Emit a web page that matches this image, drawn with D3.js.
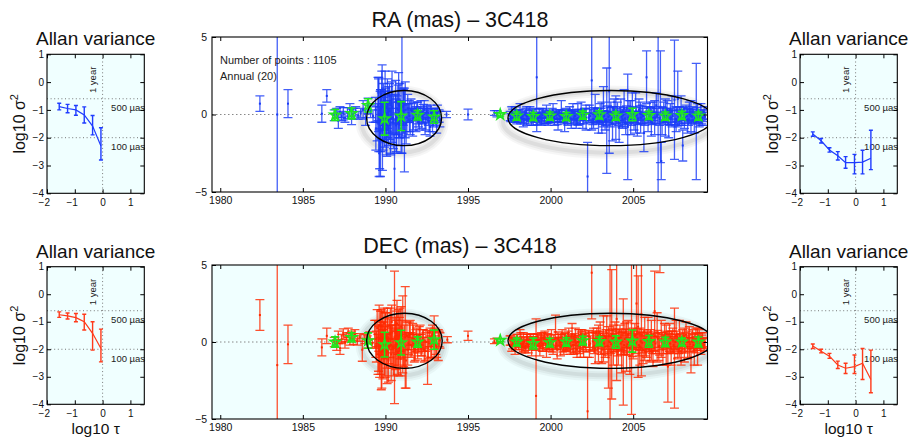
<!DOCTYPE html>
<html>
<head>
<meta charset="utf-8">
<script src="https://cdn.jsdelivr.net/npm/d3@7/dist/d3.min.js"></script>
<style>
body { margin: 0; background: #fff; }
svg { font-family: "Liberation Sans", Arial, Helvetica, sans-serif; }
</style>
</head>
<body>
<svg id="fig" width="911" height="437"></svg>
<script>
// ---- data ----
// [epoch, offset (mas), error (mas)]
const raPoints = [
  [1982.4,0.7,0.5],[1983.45,0.0,12],[1984.1,0.7,0.9],[1986.15,0.05,0.55],[1986.45,1.2,0.4],
  [1986.9,-0.05,0.35],[1987.05,0.1,0.3],[1987.15,-0.4,0.5],[1987.25,0.15,0.35],[1987.35,-0.1,0.3],
  [1987.45,0.05,0.4],[1987.55,-0.2,0.3],[1987.7,0.1,0.35],[1987.85,0.3,0.4],[1987.95,-0.15,0.5],
  [1988.05,0.05,0.35],[1988.2,0.2,0.3],[1988.35,-0.05,0.25],[1988.5,0.1,0.3],[1988.65,0.3,0.6],
  [1988.8,-0.2,0.5],[1988.95,0.55,0.5],[1989.1,0.2,0.4],[1989.25,-0.1,0.4],
  [1989.4,0.3,0.8],[1989.5,-0.5,1.2],[1989.55,1.0,1.4],[1989.6,0.0,2.4],[1989.65,-1.5,2.0],
  [1989.7,-1.2,2.8],[1989.75,0.4,1.0],[1989.8,0.8,2.4],[1989.85,-0.8,1.5],[1989.9,0.2,0.9],
  [1989.95,-0.3,1.8],[1990.0,0.5,1.2],[1990.05,-1.0,1.6],[1990.1,0.1,0.8],[1990.15,-0.4,1.1],
  [1990.2,0.3,1.5],[1990.3,-0.6,1.9],[1990.35,0.6,0.9],[1990.4,0.5,2.3],[1990.45,-0.2,1.0],
  [1990.55,-3.5,3.0],[1990.6,0.0,1.3],[1990.65,-0.7,1.7],[1990.7,0.4,0.8],[1990.8,0.6,2.1],
  [1990.85,-0.3,1.2],[1990.9,0.1,0.7],[1991.0,2.0,4.5],[1991.05,-0.4,1.0],[1991.1,0.2,1.4],
  [1991.15,-1.0,2.7],[1991.2,0.3,1.8],[1991.3,-0.2,0.9],[1991.4,0.1,0.6],[1991.5,-0.5,0.8],
  [1991.6,0.2,0.5],[1991.7,-0.3,0.7],[1991.8,0.0,0.4],[1991.9,0.3,0.5],[1992.0,-0.2,0.6],
  [1992.1,0.1,0.4],[1992.2,-0.4,0.5],[1992.3,0.05,0.6],[1992.4,-0.6,0.7],[1992.5,0.2,0.4],
  [1992.6,-0.2,0.5],[1992.7,-0.8,0.6],[1992.8,0.0,0.4],[1992.9,-0.3,0.5],[1993.0,0.1,0.3],
  [1993.1,-0.5,0.7],[1993.25,-0.1,0.4],[1993.7,0.0,0.2],[1995.0,0.0,0.35],[1996.6,0.1,0.15],
  [1996.75,0.05,0.2],
  [1997.55,-0.1,0.3],[1997.65,0.1,0.4],[1997.75,-0.2,0.3],[1997.85,0.0,0.5],[1997.95,-0.3,0.3],
  [1998.05,-0.1,0.4],[1998.15,0.2,0.5],[1998.25,-0.2,0.3],[1998.35,-0.4,0.4],[1998.45,0.0,0.3],
  [1998.55,-0.1,0.6],[1998.65,-0.3,0.3],[1998.75,0.1,0.4],[1998.85,-0.2,0.5],[1998.95,-0.4,0.3],
  [1999.05,0.0,0.4],[1999.16,2.4,3.5],[1999.25,-0.2,0.3],[1999.35,-0.1,0.5],[1999.45,-0.3,0.4],
  [1999.55,0.1,0.3],[1999.65,-0.2,0.4],[1999.75,0.0,0.6],[1999.85,-0.4,0.3],[1999.95,-0.1,0.4],
  [2000.05,-0.2,0.3],[2000.15,0.2,0.5],[2000.25,-0.3,0.4],[2000.35,0.0,0.3],[2000.45,-0.5,0.5],
  [2000.55,-0.1,0.4],[2000.65,0.3,0.6],[2000.75,-0.2,0.3],[2000.85,-0.6,0.5],[2000.95,0.0,0.4],
  [2001.05,-0.2,0.5],[2001.15,0.1,0.4],[2001.25,-0.3,0.6],[2001.35,0.2,0.5],[2001.45,-0.1,0.4],
  [2001.55,-0.4,0.5],[2001.65,0.0,0.7],[2001.75,-0.2,0.4],[2001.85,0.3,0.5],[2001.95,-0.3,0.6],
  [2002.05,0.0,0.4],[2002.15,-0.2,0.8],[2002.24,-4.0,2.2],[2002.35,0.1,0.5],[2002.49,2.2,3.2],
  [2002.6,-0.3,0.6],[2002.7,0.4,0.9],[2002.8,-0.1,0.5],[2002.9,-0.5,0.7],[2003.0,0.1,0.6],
  [2003.1,-0.2,1.0],[2003.2,0.5,1.3],[2003.3,-0.4,0.6],[2003.4,-0.4,3.4],[2003.55,1.5,4.0],
  [2003.65,0.0,0.8],[2003.75,-0.6,1.1],[2003.85,0.3,0.7],[2003.95,-0.2,1.4],[2004.05,0.2,0.6],
  [2004.15,-0.8,1.0],[2004.25,0.1,0.9],[2004.35,-0.3,0.6],[2004.45,0.4,1.2],[2004.55,-0.5,0.8],
  [2004.67,-0.8,3.4],[2004.75,0.2,0.7],[2004.85,-0.2,1.1],[2004.95,0.5,0.9],[2005.05,-0.4,0.6],
  [2005.15,0.1,1.3],[2005.25,-0.6,0.8],[2005.35,0.3,0.7],[2005.45,-0.2,1.0],[2005.55,0.0,0.6],
  [2005.65,-1.2,1.2],[2005.81,2.4,1.7],[2005.9,-0.3,0.8],[2006.0,0.2,0.6],[2006.1,-0.5,0.9],
  [2006.2,0.1,0.7],[2006.3,-0.2,1.1],[2006.4,0.6,0.8],[2006.51,0.0,7],[2006.65,0.5,3.6],
  [2006.7,-3.0,1.2],[2006.75,-0.4,0.9],[2006.85,0.1,0.7],[2006.95,-0.2,1.2],[2007.05,0.3,0.6],
  [2007.15,-0.6,0.9],[2007.25,0.0,0.7],[2007.35,0.2,1.0],[2007.5,0.95,3.85],[2007.6,-0.3,0.8],
  [2007.7,1.0,1.8],[2007.8,-0.1,0.6],[2007.9,0.3,0.9],[2008.0,-2.0,1.0],[2008.1,-0.2,0.7],
  [2008.2,0.1,0.5],[2008.3,-0.4,0.8],[2008.4,0.2,0.6],[2008.5,-0.1,1.0],[2008.6,0.0,0.5],
  [2008.7,-0.5,0.7],[2008.82,-0.45,3.75],[2008.9,0.1,0.6],[2009.0,-0.3,0.5],[2009.1,0.0,0.7],
  [2009.2,-0.2,0.5],[2009.3,0.1,0.4]
];
// further RA sessions inside the two crowded groups
const raCrowd = [
  [1989.42,-0.9,1.4],[1989.58,0.6,1.7],[1989.62,-2.5,1.5],[1989.68,0.3,1.2],[1989.72,-0.4,2.0],
  [1989.78,1.2,1.6],[1989.82,-1.8,1.8],[1989.88,0.5,1.5],[1989.92,-0.6,1.1],[1989.98,0.9,1.9],
  [1990.02,-0.2,1.4],[1990.08,-1.4,1.3],[1990.12,0.7,1.6],[1990.18,-0.8,1.2],[1990.25,0.2,1.8],
  [1990.32,-1.1,1.5],[1990.38,0.9,1.2],[1990.48,-0.5,1.7],[1990.62,0.8,1.4],[1990.68,-1.2,1.3],
  [1990.75,0.3,1.6],[1990.82,-0.6,1.4],[1990.88,0.9,1.1],[1990.95,-0.9,1.6],[1991.08,0.5,1.2],
  [1991.25,-0.6,1.3],[1991.35,0.4,0.9],[1991.45,-0.1,1.0],[1991.55,0.3,0.7],[1991.65,-0.5,0.9],
  [1991.75,0.2,0.6],[1991.85,-0.3,0.8],[1991.95,0.1,0.7],[1992.05,-0.4,0.6],[1992.15,0.2,0.7],
  [1992.25,-0.1,0.5],[1992.35,0.3,0.6],[1992.45,-0.3,0.7],[1992.55,0.0,0.5],[1992.65,-0.5,0.6],
  [1992.75,0.1,0.5],[1992.85,-0.4,0.7],[1992.95,-0.1,0.5],[1993.05,-0.3,0.4],[1993.15,0.1,0.5],
  [1993.3,-0.3,0.5],
  [1997.6,-0.2,0.25],[1997.7,0.05,0.3],[1997.8,-0.15,0.2],[1997.9,-0.05,0.35],[1998.0,-0.25,0.25],
  [1998.1,0.0,0.3],[1998.2,-0.2,0.4],[1998.3,-0.1,0.25],[1998.4,-0.3,0.3],[1998.5,0.05,0.35],
  [1998.6,-0.15,0.25],[1998.7,-0.05,0.3],[1998.8,-0.25,0.2],[1998.9,0.0,0.35],[1999.0,-0.2,0.3],
  [1999.1,-0.1,0.25],[1999.2,-0.3,0.35],[1999.3,0.05,0.3],[1999.4,-0.15,0.25],[1999.5,-0.05,0.4],
  [1999.6,-0.25,0.3],[1999.7,0.0,0.25],[1999.8,-0.2,0.35],[1999.9,-0.1,0.3],[2000.0,-0.3,0.25],
  [2000.1,0.05,0.35],[2000.2,-0.15,0.3],[2000.3,-0.05,0.25],[2000.4,-0.25,0.4],[2000.5,0.0,0.3],
  [2000.6,-0.2,0.25],[2000.7,-0.1,0.35],[2000.8,-0.3,0.3],[2000.9,0.05,0.25],[2001.0,-0.15,0.4],
  [2001.1,-0.05,0.3],[2001.2,-0.25,0.35],[2001.3,0.0,0.3],[2001.4,-0.2,0.4],[2001.5,-0.1,0.3],
  [2001.6,-0.3,0.35],[2001.7,0.05,0.3],[2001.8,-0.15,0.45],[2001.9,-0.05,0.3],[2002.0,-0.25,0.35],
  [2002.1,0.0,0.4],[2002.3,-0.2,0.3],[2002.4,-0.1,0.45],[2002.55,-0.3,0.35],[2002.65,0.05,0.4],
  [2002.75,-0.15,0.3],[2002.85,-0.05,0.45],[2002.95,-0.25,0.35],[2003.05,0.0,0.4],[2003.15,-0.2,0.45],
  [2003.25,-0.1,0.35],[2003.35,-0.3,0.4],[2003.45,0.1,0.45],[2003.5,-0.15,0.35],[2003.6,-0.05,0.5],
  [2003.7,-0.25,0.4],[2003.8,0.05,0.45],[2003.9,-0.2,0.35],[2004.0,-0.1,0.5],[2004.1,-0.3,0.4],
  [2004.2,0.05,0.45],[2004.3,-0.15,0.35],[2004.4,-0.05,0.5],[2004.5,-0.25,0.4],[2004.6,0.1,0.45],
  [2004.7,-0.2,0.35],[2004.8,-0.1,0.5],[2004.9,-0.3,0.4],[2005.0,0.05,0.45],[2005.1,-0.15,0.35],
  [2005.2,-0.05,0.5],[2005.3,-0.25,0.4],[2005.4,0.1,0.45],[2005.5,-0.2,0.35],[2005.6,-0.1,0.5],
  [2005.7,-0.3,0.4],[2005.8,0.05,0.45],[2005.95,-0.15,0.35],[2006.05,-0.05,0.5],[2006.15,-0.25,0.4],
  [2006.25,0.05,0.45],[2006.35,-0.2,0.35],[2006.45,-0.1,0.5],[2006.6,-0.3,0.4],[2006.8,0.0,0.45],
  [2006.9,-0.15,0.35],[2007.0,-0.05,0.45],[2007.1,-0.25,0.4],[2007.2,0.05,0.35],[2007.3,-0.2,0.45],
  [2007.4,-0.1,0.4],[2007.55,-0.3,0.35],[2007.65,0.0,0.45],[2007.75,-0.15,0.4],[2007.85,-0.05,0.35],
  [2007.95,-0.25,0.45],[2008.05,0.05,0.4],[2008.15,-0.2,0.35],[2008.25,-0.1,0.45],[2008.35,-0.3,0.4],
  [2008.45,0.0,0.35],[2008.55,-0.15,0.45],[2008.65,-0.05,0.4],[2008.75,-0.25,0.35],[2008.85,0.05,0.4],
  [2008.95,-0.2,0.35],[2009.05,-0.1,0.3],[2009.15,-0.25,0.35],[2009.25,0.0,0.3],[2009.35,-0.15,0.3]
];

const decPoints = [
  [1982.4,1.75,1.0],[1983.45,-1.5,12],[1984.1,-0.15,1.25],[1986.15,-0.35,0.55],[1986.45,0.4,0.5],
  [1986.9,0.0,0.3],[1987.05,-0.2,0.35],[1987.15,0.3,0.4],[1987.25,-0.4,0.4],[1987.35,0.2,0.3],
  [1987.45,0.5,0.35],[1987.55,0.0,0.4],[1987.65,0.3,0.3],[1987.75,0.6,0.3],[1987.85,0.2,0.4],
  [1987.95,0.4,0.3],[1988.05,0.2,0.35],[1988.15,0.5,0.3],[1988.3,0.1,0.3],[1988.45,0.3,0.25],
  [1988.6,-0.5,0.75],[1988.75,0.2,0.3],[1988.9,0.0,0.4],[1989.05,0.3,0.35],[1989.2,-0.1,0.3],
  [1989.35,0.5,0.9],[1989.45,-0.3,1.0],[1989.5,0.9,1.2],[1989.55,-0.8,1.3],[1989.6,0.2,0.8],
  [1989.65,-1.2,1.1],[1989.7,0.6,1.4],[1989.75,-0.5,2.6],[1989.8,0.1,1.0],[1989.85,-1.0,1.4],
  [1989.9,0.4,0.9],[1989.95,-0.6,1.6],[1990.0,0.8,1.1],[1990.05,-0.2,0.8],[1990.1,-1.5,1.2],
  [1990.15,0.3,1.3],[1990.2,-0.4,1.0],[1990.3,1.0,1.2],[1990.35,-0.8,1.7],[1990.4,0.2,0.9],
  [1990.45,-0.3,1.4],[1990.55,0.3,4.3],[1990.6,0.6,1.0],[1990.65,-0.5,1.2],[1990.7,1.2,1.5],
  [1990.75,0.0,0.8],[1990.8,-0.9,1.3],[1990.85,0.5,1.1],[1990.9,-0.2,0.9],[1990.95,1.0,1.3],
  [1991.05,0.5,2.5],[1991.1,-0.6,1.0],[1991.2,0.3,3.3],[1991.25,-1.2,1.8],[1991.3,0.4,0.9],
  [1991.4,-0.1,0.7],[1991.5,0.6,0.8],[1991.6,-0.3,0.6],[1991.7,0.2,0.9],[1991.8,-0.5,0.7],
  [1991.9,0.4,0.5],[1992.0,-0.1,0.6],[1992.1,0.3,0.8],[1992.2,-0.4,0.5],[1992.3,0.1,0.7],
  [1992.4,-0.6,0.6],[1992.55,-1.0,1.75],[1992.65,0.2,0.5],[1992.75,-0.3,0.7],[1992.85,0.5,0.6],
  [1992.95,0.3,1.4],[1993.05,-0.2,0.6],[1993.2,-0.2,1.0],[1993.3,0.1,0.5],[1993.75,0.15,0.2],
  [1995.0,0.4,0.3],[1996.6,0.05,0.15],[1996.75,0.1,0.15],
  [1997.55,0.1,0.3],[1997.65,-0.2,0.4],[1997.75,0.0,0.3],[1997.85,-0.3,0.5],[1997.95,0.2,0.3],
  [1998.05,-0.1,0.4],[1998.15,0.3,0.5],[1998.25,-0.3,0.4],[1998.35,0.0,0.6],[1998.45,-0.4,0.3],
  [1998.55,0.1,0.4],[1998.65,-0.2,0.5],[1998.75,0.2,0.3],[1998.85,-0.5,0.4],[1998.95,0.0,0.5],
  [1999.05,-0.2,0.3],[1999.12,-3.5,5.0],[1999.25,0.1,0.4],[1999.35,-0.3,0.6],[1999.45,0.2,0.4],
  [1999.55,-0.1,0.5],[1999.65,0.3,0.4],[1999.75,-0.4,0.6],[1999.85,0.0,0.5],[1999.95,-0.2,0.4],
  [2000.05,0.2,0.6],[2000.15,-0.3,0.5],[2000.3,0.65,1.1],[2000.4,-0.5,0.6],[2000.5,0.1,0.4],
  [2000.6,-0.2,0.7],[2000.7,0.3,0.5],[2000.8,-0.4,0.4],[2000.9,0.0,0.6],[2001.0,-0.1,0.5],
  [2001.1,0.2,0.7],[2001.2,-0.3,0.5],[2001.3,0.5,0.7],[2001.4,-0.2,0.6],[2001.5,0.1,0.8],
  [2001.6,-0.5,0.5],[2001.7,0.2,0.6],[2001.8,-0.1,0.9],[2001.9,0.3,0.5],[2002.0,-0.3,0.7],
  [2002.1,0.1,0.6],[2002.24,-4.5,3.5],[2002.35,-0.2,0.8],[2002.49,4.5,3.0],[2002.6,0.2,0.7],
  [2002.7,-0.4,1.0],[2002.8,0.3,0.6],[2002.9,-0.1,1.2],[2003.0,0.5,0.8],[2003.1,-0.5,0.9],
  [2003.2,0.2,1.5],[2003.3,-0.3,0.7],[2003.4,0.6,1.1],[2003.5,-1.0,2.0],[2003.6,0.0,7.0],
  [2003.7,0.5,4.2],[2003.8,-0.2,1.3],[2003.9,0.4,0.9],[2004.0,1.5,4.0],[2004.1,-0.4,1.1],
  [2004.2,0.3,0.8],[2004.3,-0.6,1.4],[2004.4,-0.65,3.45],[2004.5,0.2,1.0],[2004.6,-0.3,1.6],
  [2004.7,0.5,0.9],[2004.8,-0.9,1.2],[2004.9,0.3,5.0],[2005.0,-0.1,1.0],[2005.1,0.4,0.8],
  [2005.2,2.5,3.0],[2005.3,1.0,3.3],[2005.4,-0.3,1.2],[2005.5,1.8,4.0],[2005.6,-0.5,0.9],
  [2005.7,0.2,1.4],[2005.8,-0.2,0.8],[2005.9,0.5,1.1],[2006.0,-0.4,0.9],[2006.1,0.1,1.3],
  [2006.2,-0.6,1.0],[2006.3,2.0,2.6],[2006.45,0.3,1.6],[2006.55,-0.3,0.9],[2006.62,6.5,2.0],
  [2006.7,0.2,1.2],[2006.8,-0.5,1.0],[2006.9,0.4,0.8],[2007.0,-0.2,1.3],[2007.1,-1.6,2.3],
  [2007.2,0.3,0.9],[2007.3,-0.4,1.1],[2007.4,0.1,0.8],[2007.5,-1.05,3.25],[2007.6,0.4,1.0],
  [2007.7,-0.3,0.8],[2007.8,0.2,1.2],[2007.9,-0.6,0.9],[2008.0,0.1,0.7],[2008.1,-0.2,1.1],
  [2008.2,0.5,0.8],[2008.3,-0.4,0.7],[2008.4,0.0,1.0],[2008.5,-1.0,1.0],[2008.6,0.2,0.6],
  [2008.7,-0.5,1.0],[2008.8,0.1,0.8],[2008.9,-0.3,1.2],[2009.0,0.2,0.6],[2009.1,-0.1,0.7],
  [2009.2,0.1,0.5],[2009.3,-0.2,0.4]
];
const decCrowd = [
  [1989.42,0.2,1.2],[1989.58,-0.4,1.5],[1989.62,1.1,1.3],[1989.68,-0.9,1.2],[1989.72,0.3,1.0],
  [1989.78,-1.4,1.6],[1989.82,0.7,1.3],[1989.88,-0.3,1.1],[1989.92,1.2,1.0],[1989.98,-1.0,1.3],
  [1990.02,0.4,1.5],[1990.08,-0.6,1.1],[1990.12,1.0,1.2],[1990.18,-1.2,1.4],[1990.25,0.5,1.0],
  [1990.32,-0.2,1.3],[1990.38,1.3,1.1],[1990.48,-1.0,1.2],[1990.62,-0.2,1.6],[1990.68,0.8,1.2],
  [1990.72,-0.7,1.4],[1990.78,1.1,1.0],[1990.82,-0.3,1.2],[1990.88,0.7,1.5],[1990.92,-1.1,1.1],
  [1991.0,0.2,1.2],[1991.15,-0.3,1.4],[1991.35,-0.5,1.0],[1991.45,0.4,0.9],[1991.55,-0.2,0.8],
  [1991.65,0.5,0.7],[1991.75,-0.4,0.9],[1991.85,0.1,0.7],[1991.95,-0.3,0.8],[1992.05,0.4,0.6],
  [1992.15,-0.2,0.7],[1992.25,0.2,0.6],[1992.35,-0.5,0.8],[1992.45,0.0,0.6],[1992.6,-0.4,0.7],
  [1992.7,0.3,0.6],[1992.8,-0.2,0.8],[1992.9,0.1,0.6],[1993.0,0.4,0.5],[1993.1,-0.4,0.6],
  [1993.25,0.2,0.5],
  [1997.6,0.1,0.3],[1997.7,-0.1,0.35],[1997.8,0.05,0.25],[1997.9,-0.2,0.3],[1998.0,0.15,0.35],
  [1998.1,-0.05,0.3],[1998.2,0.2,0.4],[1998.3,-0.15,0.3],[1998.4,0.0,0.35],[1998.5,-0.25,0.3],
  [1998.6,0.1,0.4],[1998.7,-0.1,0.3],[1998.8,0.2,0.35],[1998.9,-0.05,0.4],[1999.0,0.05,0.3],
  [1999.1,-0.2,0.35],[1999.2,0.15,0.4],[1999.3,-0.1,0.3],[1999.4,0.0,0.45],[1999.5,-0.25,0.35],
  [1999.6,0.2,0.4],[1999.7,-0.05,0.35],[1999.8,0.1,0.45],[1999.9,-0.15,0.35],[2000.0,0.05,0.4],
  [2000.1,-0.2,0.45],[2000.2,0.15,0.35],[2000.35,-0.1,0.4],[2000.45,0.2,0.45],[2000.55,-0.05,0.35],
  [2000.65,0.0,0.5],[2000.75,-0.25,0.4],[2000.85,0.1,0.45],[2000.95,-0.15,0.4],[2001.05,0.2,0.5],
  [2001.15,-0.05,0.4],[2001.25,0.05,0.45],[2001.35,-0.2,0.5],[2001.45,0.15,0.4],[2001.55,-0.1,0.5],
  [2001.65,0.0,0.45],[2001.75,-0.25,0.5],[2001.85,0.2,0.45],[2001.95,-0.05,0.55],[2002.05,0.1,0.45],
  [2002.15,-0.15,0.5],[2002.3,0.2,0.55],[2002.4,-0.1,0.5],[2002.55,0.05,0.6],[2002.65,-0.25,0.5],
  [2002.75,0.15,0.55],[2002.85,-0.05,0.6],[2002.95,0.2,0.5],[2003.05,-0.2,0.6],[2003.15,0.1,0.55],
  [2003.25,-0.1,0.65],[2003.35,0.25,0.55],[2003.45,-0.25,0.6],[2003.55,0.05,0.7],[2003.65,-0.15,0.6],
  [2003.75,0.2,0.65],[2003.85,-0.05,0.6],[2003.95,0.1,0.7],[2004.05,-0.3,0.6],[2004.15,0.2,0.65],
  [2004.25,-0.1,0.7],[2004.35,0.05,0.6],[2004.45,-0.2,0.65],[2004.55,0.25,0.6],[2004.65,-0.15,0.7],
  [2004.75,0.0,0.65],[2004.85,0.2,0.6],[2004.95,-0.25,0.7],[2005.05,0.1,0.6],[2005.15,-0.1,0.65],
  [2005.25,0.25,0.6],[2005.35,-0.2,0.7],[2005.45,0.05,0.6],[2005.55,-0.05,0.65],[2005.65,0.2,0.6],
  [2005.75,-0.25,0.65],[2005.85,0.1,0.6],[2005.95,-0.1,0.55],[2006.05,0.2,0.6],[2006.15,-0.2,0.55],
  [2006.25,0.05,0.6],[2006.35,-0.1,0.65],[2006.5,0.2,0.55],[2006.6,-0.25,0.6],[2006.75,0.05,0.55],
  [2006.85,-0.15,0.6],[2006.95,0.15,0.5],[2007.05,-0.2,0.55],[2007.15,0.05,0.5],[2007.25,-0.1,0.6],
  [2007.35,0.2,0.5],[2007.45,-0.2,0.55],[2007.55,0.0,0.5],[2007.65,0.15,0.55],[2007.75,-0.25,0.5],
  [2007.85,0.05,0.5],[2007.95,-0.15,0.55],[2008.05,0.15,0.45],[2008.15,-0.2,0.5],[2008.25,0.0,0.45],
  [2008.35,0.2,0.5],[2008.45,-0.15,0.45],[2008.55,0.05,0.5],[2008.65,-0.2,0.45],[2008.75,0.1,0.5],
  [2008.85,-0.1,0.45],[2008.95,0.15,0.4],[2009.05,-0.15,0.4],[2009.15,0.05,0.4],[2009.25,-0.1,0.35],
  [2009.35,0.0,0.3]
];

// annual averages (20)
const annualYears = [1986.95,1987.95,1988.95,1989.95,1990.95,1991.95,1992.95,
  1996.95,1997.95,1998.95,1999.95,2000.95,2001.95,2002.95,2003.95,2004.95,2005.95,2006.95,2007.95,2008.95];
const raAnnualVal = [-0.03,0.07,0.59,-0.27,-0.1,-0.05,-0.16,
  0.0,-0.1,-0.13,-0.1,-0.13,-0.04,-0.02,-0.1,0.0,-0.06,-0.1,-0.06,-0.1];
const raAnnualErr = [0.35,0.35,0.43,1.06,0.93,0.3,0.4,
  0.1,0.26,0.26,0.26,0.26,0.26,0.26,0.26,0.4,0.26,0.26,0.26,0.26];
const decAnnualVal = [0.0,0.3,0.09,-0.17,-0.04,0.0,0.15,
  0.11,0.0,-0.1,-0.04,0.0,0.09,0.04,0.0,0.06,0.04,0.0,0.0,0.0];
const decAnnualErr = [0.33,0.3,0.5,0.8,0.8,0.33,0.62,
  0.08,0.25,0.35,0.28,0.28,0.28,0.28,0.4,0.72,0.38,0.3,0.25,0.32];

// highlighted groups: [centre epoch, centre mas, half-width yr, half-height mas]
const raEllipses = [[1991.13,-0.23,2.27,1.78],[2003.62,-0.23,6.2,1.78]];
const decEllipses = [[1991.15,0.08,2.29,1.79],[2003.62,0.08,6.2,1.79]];

// Allan variance: log10 tau, log10 sigma^2 and bar limits
const tauLeft = [-1.56,-1.26,-0.96,-0.66,-0.36,-0.06];
const tauRight = [-1.54,-1.24,-0.94,-0.64,-0.36,-0.04,0.25,0.55];
const raAllanLeft = [-0.88,-0.95,-1.0,-1.18,-1.58,-2.3];
const raAllanLeftLo = [-1.0,-1.1,-1.19,-1.47,-1.9,-2.8];
const raAllanLeftHi = [-0.76,-0.8,-0.84,-0.89,-1.2,-1.64];
const raAllanRight = [-1.87,-2.11,-2.44,-2.65,-2.9,-2.9,-2.88,-2.74];
const raAllanRightLo = [-1.95,-2.19,-2.52,-2.8,-3.1,-3.3,-3.3,-3.15];
const raAllanRightHi = [-1.79,-2.03,-2.36,-2.5,-2.68,-2.6,-2.45,-1.73];
const decAllanLeft = [-0.745,-0.79,-0.85,-1.0,-1.42,-1.97];
const decAllanLeftLo = [-0.84,-0.9,-1.0,-1.3,-2.03,-2.46];
const decAllanLeftHi = [-0.64,-0.68,-0.7,-0.73,-1.0,-1.27];
const decAllanRight = [-1.88,-2.07,-2.25,-2.57,-2.69,-2.63,-2.51,-3.1];
const decAllanRightLo = [-1.97,-2.13,-2.33,-2.7,-2.88,-2.88,-3.1,-3.58];
const decAllanRightHi = [-1.81,-2.0,-2.15,-2.43,-2.51,-2.21,-1.97,-2.03];

const yearTicks = [1980,1985,1990,1995,2000,2005];
const masTicks = [-5,0,5];
const tauTicks = [-2,-1,0,1];
const sigTicks = [-4,-3,-2,-1,0,1];

const BLUE = "#1a3cf7", RED = "#ff2a00", GREEN = "#1ee81e", CYAN = "#f0ffff";

const svg = d3.select("#fig");
const defs = svg.append("defs");

const fmtNum = d => (d < 0 ? "\u2212" + Math.abs(d) : String(d));

// inward MATLAB-like ticks on all four sides
function frame(g, x, y, xt, yt, labelSize, xPad, yPad, hangMinus) {
  const bx = g.append("g").attr("transform", `translate(0,${y.range()[0]})`)
    .call(d3.axisBottom(x).tickValues(xt).tickSize(-4).tickPadding(xPad).tickFormat(fmtNum))
    .call(a => a.select(".domain").remove());
  if (hangMinus) bx.selectAll(".tick text").filter(d => d < 0).attr("dx", "-0.32em");
  g.append("g").attr("transform", `translate(0,${y.range()[1]})`)
    .call(d3.axisTop(x).tickValues(xt).tickSize(-4).tickFormat(""))
    .call(a => a.select(".domain").remove());
  g.append("g").attr("transform", `translate(${x.range()[0]},0)`)
    .call(d3.axisLeft(y).tickValues(yt).tickSize(-4).tickPadding(yPad).tickFormat(fmtNum))
    .call(a => a.select(".domain").remove());
  g.append("g").attr("transform", `translate(${x.range()[1]},0)`)
    .call(d3.axisRight(y).tickValues(yt).tickSize(-4).tickFormat(""))
    .call(a => a.select(".domain").remove());
  g.selectAll(".tick text").attr("font-size", labelSize).attr("fill", "#111")
    .attr("font-family", "Liberation Sans, Arial, sans-serif");
  g.selectAll(".tick line").attr("stroke", "#000");
  g.append("rect").attr("x", x.range()[0]).attr("y", y.range()[1])
    .attr("width", x.range()[1] - x.range()[0]).attr("height", y.range()[0] - y.range()[1])
    .attr("fill", "none").attr("stroke", "#000").attr("stroke-width", 1.1);
}

function barPath(xp, ylo, yhi, cap) {
  return `M${xp - cap},${ylo}H${xp + cap}M${xp},${ylo}V${yhi}M${xp - cap},${yhi}H${xp + cap}`;
}

function mainPanel(opt) {
  const g = svg.append("g");
  const x = d3.scaleLinear().domain([1979.5, 2009.5]).range([212, 707.5]);
  const y = d3.scaleLinear().domain([-5, 5]).range([opt.bottom, opt.top]);
  const clipId = "clip-" + opt.name;
  defs.append("clipPath").attr("id", clipId).append("rect")
    .attr("x", 212).attr("y", opt.top).attr("width", 495.5).attr("height", opt.bottom - opt.top);

  g.append("rect").attr("x", 212).attr("y", opt.top).attr("width", 495.5)
    .attr("height", opt.bottom - opt.top).attr("fill", opt.bg);

  const plot = g.append("g").attr("clip-path", `url(#${clipId})`);
  const k = x(1) - x(0), ky = y(0) - y(1);

  // soft shadow below-left of the group ellipses
  const shade = plot.append("g");
  [[12, 0.035], [8, 0.045], [4, 0.06]].forEach(([w, o]) => {
    shade.append("g").selectAll("ellipse").data(opt.ellipses).join("ellipse")
      .attr("cx", d => x(d[0]) - 2).attr("cy", d => y(d[1]) + 4)
      .attr("rx", d => d[2] * k + 3).attr("ry", d => d[3] * ky + 3)
      .attr("fill", "none").attr("stroke", "#000").attr("stroke-width", w).attr("stroke-opacity", o);
  });

  plot.append("line").attr("x1", 212).attr("x2", 707.5).attr("y1", y(0)).attr("y2", y(0))
    .attr("stroke", "#888").attr("stroke-dasharray", "1.5,2.5");

  const pts = opt.points.concat(opt.crowd);
  plot.append("g").selectAll("path").data(pts).join("path")
    .attr("d", d => barPath(x(d[0]), y(d[1] - d[2]), y(d[1] + d[2]), 4.5))
    .attr("fill", "none").attr("stroke", opt.color).attr("stroke-width", 1.3)
    .attr("stroke-opacity", 0.82);
  plot.append("g").selectAll("rect").data(pts).join("rect")
    .attr("x", d => x(d[0]) - 1).attr("y", d => y(d[1]) - 1)
    .attr("width", 2).attr("height", 2).attr("fill", opt.color);

  // annual means
  const ann = annualYears.map((t, i) => [t, opt.annVal[i], opt.annErr[i]]);
  plot.append("g").selectAll("path").data(ann).join("path")
    .attr("d", d => barPath(x(d[0]), y(d[1] - d[2]), y(d[1] + d[2]), 4))
    .attr("fill", "none").attr("stroke", GREEN).attr("stroke-width", 1.6);
  plot.append("g").selectAll("path").data(ann).join("path")
    .attr("transform", d => `translate(${x(d[0])},${y(d[1])})`)
    .attr("d", d3.symbol(d3.symbolStar, 34)())
    .attr("fill", "none").attr("stroke", GREEN).attr("stroke-width", 1.5);

  plot.append("g").selectAll("ellipse").data(opt.ellipses).join("ellipse")
    .attr("cx", d => x(d[0])).attr("cy", d => y(d[1]))
    .attr("rx", d => d[2] * k).attr("ry", d => d[3] * ky)
    .attr("fill", "none").attr("stroke", "#000").attr("stroke-width", 1.4);

  frame(g, x, y, yearTicks, masTicks, 10.5, 5, 5, false);

  g.append("text").attr("x", 460).attr("y", opt.titleY).attr("text-anchor", "middle")
    .attr("font-size", 21.5).attr("fill", "#111").text(opt.title);
  if (opt.notes) {
    opt.notes.forEach((s, i) => g.append("text").attr("x", 220).attr("y", 64 + i * 16)
      .attr("font-size", 11).attr("fill", "#222").text(s));
  }
}

function allanPanel(opt) {
  const g = svg.append("g");
  const x = d3.scaleLinear().domain([-2, 1.5]).range([opt.left, opt.left + 97.3]);
  const y = d3.scaleLinear().domain([-4, 1]).range([opt.bottom, opt.top]);
  g.append("rect").attr("x", opt.left).attr("y", opt.top).attr("width", 97.3)
    .attr("height", opt.bottom - opt.top).attr("fill", CYAN);

  const dots = g.append("g").attr("stroke", "#777").attr("stroke-dasharray", "1,2.6");
  dots.append("line").attr("x1", x(0)).attr("x2", x(0)).attr("y1", opt.top).attr("y2", opt.bottom);
  [-0.6, -2].forEach(v => dots.append("line").attr("x1", x.range()[0]).attr("x2", x.range()[1])
    .attr("y1", y(v)).attr("y2", y(v)));

  g.append("text").attr("transform", `translate(${x(0) - 7},${y(0.08)}) rotate(-90)`)
    .attr("text-anchor", "middle").attr("font-size", 9.5).attr("fill", "#222").text("1 year");
  g.append("text").attr("x", x(0) + 8.5).attr("y", y(-0.6) + 12).attr("font-size", 9.5)
    .attr("fill", "#222").text("500 \u00b5as");
  g.append("text").attr("x", x(0) + 8.5).attr("y", y(-2) + 12.5).attr("font-size", 9.5)
    .attr("fill", "#222").text("100 \u00b5as");

  const pts = opt.tau.map((t, i) => ({ t, v: opt.val[i], lo: opt.lo[i], hi: opt.hi[i] }));
  g.append("path").datum(pts)
    .attr("d", d3.line().x(d => x(d.t)).y(d => y(d.v)))
    .attr("fill", "none").attr("stroke", opt.color).attr("stroke-width", 1.2);
  g.append("g").selectAll("path").data(pts).join("path")
    .attr("d", d => barPath(x(d.t), y(d.lo), y(d.hi), 2))
    .attr("fill", "none").attr("stroke", opt.color).attr("stroke-width", 1.4);

  frame(g, x, y, tauTicks, sigTicks, 10, 5.5, 3, true);

  g.append("text").attr("x", (x.range()[0] + x.range()[1]) / 2).attr("y", opt.top - 9)
    .attr("text-anchor", "middle").attr("font-size", 19).attr("fill", "#111").text("Allan variance");
  const yl = g.append("text")
    .attr("transform", `translate(${opt.left - 22},${(opt.top + opt.bottom) / 2}) rotate(-90)`)
    .attr("text-anchor", "middle").attr("font-size", 16).attr("fill", "#111");
  yl.append("tspan").text("log10 \u03c3");
  yl.append("tspan").attr("font-size", 11).attr("dy", -7).text("2");
  if (opt.xlabel) {
    g.append("text").attr("x", (x.range()[0] + x.range()[1]) / 2).attr("y", 433.5)
      .attr("text-anchor", "middle").attr("font-size", 15.5).attr("fill", "#111").text("log10 \u03c4");
  }
}

mainPanel({ name: "ra", top: 37, bottom: 192, bg: "#ffffff", color: BLUE,
  points: raPoints, crowd: raCrowd,
  annVal: raAnnualVal, annErr: raAnnualErr, ellipses: raEllipses, titleY: 27,
  title: "RA (mas) \u2013 3C418", notes: ["Number of points : 1105", "Annual (20)"] });
mainPanel({ name: "dec", top: 265, bottom: 419, bg: CYAN, color: RED,
  points: decPoints, crowd: decCrowd,
  annVal: decAnnualVal, annErr: decAnnualErr, ellipses: decEllipses, titleY: 253,
  title: "DEC (mas) \u2013 3C418" });

allanPanel({ left: 47, top: 54.3, bottom: 193.3, color: "#1f3cff",
  tau: tauLeft, val: raAllanLeft, lo: raAllanLeftLo, hi: raAllanLeftHi });
allanPanel({ left: 800, top: 54.3, bottom: 193.3, color: "#1f3cff",
  tau: tauRight, val: raAllanRight, lo: raAllanRightLo, hi: raAllanRightHi });
allanPanel({ left: 47, top: 266.7, bottom: 404.3, color: "#ff3a1a", xlabel: true,
  tau: tauLeft, val: decAllanLeft, lo: decAllanLeftLo, hi: decAllanLeftHi });
allanPanel({ left: 800, top: 266.7, bottom: 404.3, color: "#ff3a1a", xlabel: true,
  tau: tauRight, val: decAllanRight, lo: decAllanRightLo, hi: decAllanRightHi });
</script>
</body>
</html>
